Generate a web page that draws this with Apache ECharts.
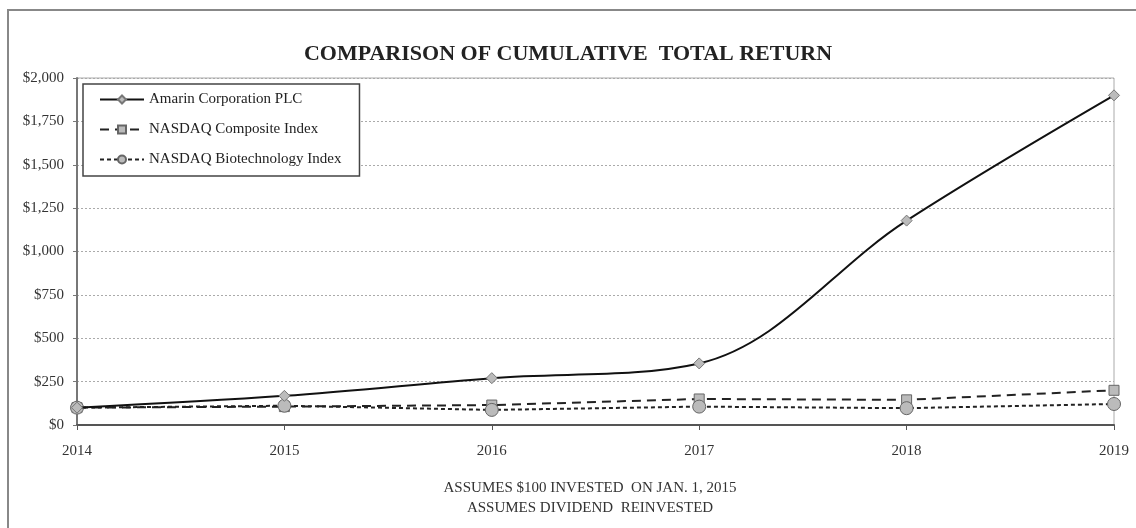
<!DOCTYPE html>
<html>
<head>
<meta charset="utf-8">
<script src="https://cdn.jsdelivr.net/npm/echarts@6/dist/echarts.min.js"></script>
<style>
  html, body { margin: 0; padding: 0; background: #fff; }
  #chart { width: 1136px; height: 528px; }
</style>
</head>
<body>
<div id="chart"></div>
<script>
// years on the x axis
const years = ['2014', '2015', '2016', '2017', '2018', '2019'];

// values ($100 invested)
const amarin = [100, 168, 270, 355, 1178, 1900];
const nasdaqComposite = [100, 106, 115, 150, 145, 200];
const nasdaqBiotech = [100, 111, 87, 106, 97, 121];

const serif = '"Liberation Serif", "DejaVu Serif", serif';

const chartDom = document.getElementById('chart');
const myChart = echarts.init(chartDom);

const option = {
    animation: false,
    backgroundColor: '#fff',
    title: {
        text: 'COMPARISON OF CUMULATIVE  TOTAL RETURN',
        left: 'center',
        top: 38,
        textStyle: {
            fontFamily: serif,
            fontSize: 22,
            fontWeight: 'bold',
            color: '#222'
        }
    },
    legend: {
        orient: 'vertical',
        left: 83,
        top: 84,
        padding: [8, 18, 9, 16],
        itemGap: 15,
        itemWidth: 44,
        itemHeight: 10,
        borderColor: '#444',
        borderWidth: 1.5,
        backgroundColor: '#fff',
        textStyle: {
            fontFamily: serif,
            fontSize: 15,
            color: '#222'
        },
        data: ['Amarin Corporation PLC', 'NASDAQ Composite Index', 'NASDAQ Biotechnology Index']
    },
    grid: {
        left: 77,
        right: 22,
        top: 78,
        bottom: 103,
        show: true,
        borderColor: '#aaa',
        borderWidth: 1
    },
    xAxis: {
        type: 'category',
        data: years,
        boundaryGap: false,
        axisLine: { lineStyle: { color: '#555', width: 2 } },
        axisTick: { show: true, length: 5, lineStyle: { color: '#555' } },
        axisLabel: {
            fontFamily: serif,
            fontSize: 15,
            color: '#333',
            margin: 19
        }
    },
    yAxis: {
        type: 'value',
        min: 0,
        max: 2000,
        interval: 250,
        axisLine: { show: true, lineStyle: { color: '#777', width: 2 } },
        axisTick: { show: true, length: 4, lineStyle: { color: '#777' } },
        axisLabel: {
            fontFamily: serif,
            fontSize: 15,
            color: '#333',
            margin: 13,
            formatter: function (val) {
                return '$' + val.toLocaleString('en-US');
            }
        },
        splitLine: { lineStyle: { color: '#aaa', type: [2, 2] } }
    },
    graphic: [
        {
            type: 'rect',
            shape: { x: 8, y: 10, width: 1200, height: 600 },
            style: { fill: 'none', stroke: '#888', lineWidth: 2 },
            silent: true
        },
        {
            type: 'text',
            x: 590,
            y: 478,
            style: {
                text: 'ASSUMES $100 INVESTED  ON JAN. 1, 2015\nASSUMES DIVIDEND  REINVESTED',
                align: 'center',
                font: '15px ' + serif,
                fill: '#333',
                lineHeight: 20
            }
        }
    ],
    series: [
        {
            name: 'Amarin Corporation PLC',
            type: 'line',
            data: amarin,
            smooth: 0.35,
            symbol: 'diamond',
            symbolSize: 11,
            z: 4,
            lineStyle: { color: '#111', width: 2 },
            itemStyle: { color: '#bbb', borderColor: '#777', borderWidth: 1 }
        },
        {
            name: 'NASDAQ Composite Index',
            type: 'line',
            data: nasdaqComposite,
            symbol: 'rect',
            symbolSize: 10,
            z: 3,
            lineStyle: { color: '#222', width: 2, type: [9, 6] },
            itemStyle: { color: '#bbb', borderColor: '#666', borderWidth: 1 }
        },
        {
            name: 'NASDAQ Biotechnology Index',
            type: 'line',
            data: nasdaqBiotech,
            symbol: 'circle',
            symbolSize: 13,
            z: 3,
            lineStyle: { color: '#222', width: 2, type: [4, 3] },
            itemStyle: { color: '#bbb', borderColor: '#666', borderWidth: 1 }
        }
    ]
};

myChart.setOption(option);
</script>
</body>
</html>
